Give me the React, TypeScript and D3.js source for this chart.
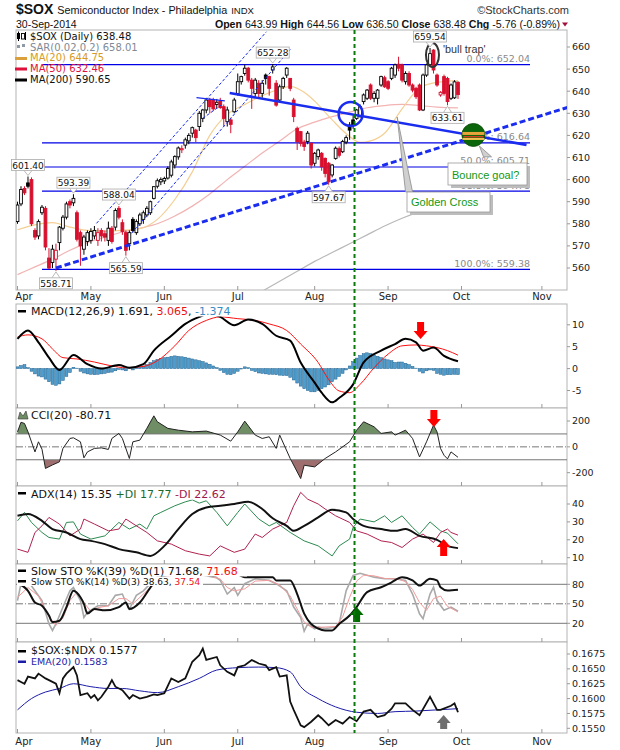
import React from 'react';
import * as d3 from 'd3';

type Pt = [number, number];

const SANS = "'DejaVu Sans', Verdana, sans-serif";
const ARIAL = "'Liberation Sans', Arial, Helvetica, sans-serif";

// daily bars, 1 Apr 2014 .. 30 Sep 2014 (index 0 = 1 Apr)
const OPEN = [
  581, 589, 596, 598.5, 600, 577, 574.5, 585, 587, 564.5,
  562.5, 564, 571.5, 578, 583, 590, 589.5, 585, 576, 568.5,
  572, 572.5, 574.5, 572.5, 577, 575.5, 572.5, 578, 578.5, 587,
  580.5, 576, 571, 582, 576, 580, 582, 584, 585, 591.5,
  597, 599, 599.4, 600.7, 602, 606.6, 610.3, 613.5, 615.6, 617.5,
  621, 622.4, 624, 627.7, 631.5, 636, 636, 634, 635.5, 633,
  626.2, 627, 630.7, 639, 644.3, 648, 650.4, 645, 639, 643.6,
  639, 647.3, 646.6, 649.6, 643.6, 636, 642, 647.3, 645.8, 636,
  623.2, 621.7, 617, 617.2, 616.4, 607.4, 610.4, 611.9, 609.6, 607.4,
  602.1, 609.6, 614, 612.6, 617, 624.7, 627, 627.7, 628.5, 635.3,
  636.8, 642.8, 636.8, 636.8, 642.8, 646.1, 644.3, 645.8, 647.3, 652.2,
  651.9, 644.3, 648, 642.8, 641.3, 642.8, 631.5, 647.3, 652, 658.6,
  647.3, 638.3, 646.6, 645.8, 636.8, 637, 643.99,
];
const HIGH = [
  590, 597, 597, 601.4, 601, 578, 582, 588.5, 588, 569,
  570.5, 571, 579, 584, 590, 591, 593.39, 586, 577, 575,
  577, 578, 579, 578, 578, 577, 581, 579, 587, 588.04,
  582, 577, 577, 583, 582, 585, 586, 588, 590.5, 597,
  600.5, 601, 601.3, 606, 609, 611, 615, 615.5, 619, 621,
  624, 623, 631, 632, 637, 637, 637, 636.5, 637, 634,
  633, 628, 637, 648, 647, 652, 651, 646, 646, 645,
  645, 648, 647, 652.28, 645, 643, 646.5, 650.9, 646, 637,
  624, 622, 618, 622, 617, 612.5, 614, 612.5, 610, 608,
  607, 615, 615, 618, 620, 626, 629, 632, 634, 639,
  641, 643.5, 640, 641, 647, 647, 645, 651, 652.5, 655.6,
  652.5, 649, 649, 643.5, 642, 643.5, 648, 652.5, 659.54, 659,
  648, 640, 647.5, 646.5, 643.5, 645, 644.56,
];
const LOW = [
  580, 588, 593, 596, 579, 572.7, 573, 584, 568, 559.5,
  560, 558.71, 568, 577, 582, 587, 588, 572, 561, 566,
  570, 571, 573, 570, 572, 572, 570, 571, 577, 582,
  575, 565.59, 568, 576, 575, 579, 580, 583, 584, 591,
  596, 597.5, 598, 600, 601, 605, 609, 612, 614, 616,
  619, 617, 622, 626, 630, 630, 631, 632, 632, 624,
  624, 621, 630, 638, 643, 647, 644, 632, 637, 637,
  637, 643, 638, 648, 633, 635, 641, 646, 640, 626,
  613.4, 615, 613, 616, 605, 606, 609, 604, 601, 597.67,
  601, 609, 610, 612, 616, 618, 623, 627, 628, 634,
  636, 636, 635, 634, 642, 641.5, 640.5, 645, 646, 649,
  644, 643, 642, 639.5, 636.5, 631, 631, 646.5, 651, 648,
  642, 637.5, 638, 633.61, 636, 636.5, 636.5,
];
const CLOSE = [
  588.5, 595.5, 594, 597, 580, 574, 581, 587.5, 569.5, 560,
  568.5, 568, 578.5, 583, 589, 588.5, 591.5, 573, 570, 574,
  576, 576.5, 577, 576, 574.5, 574, 578, 572, 586, 583,
  576.5, 568, 576, 577, 581, 584, 585, 587, 590, 596.8,
  599.5, 600, 600.5, 605, 608, 610.4, 614.3, 614, 618, 620,
  623.5, 619, 630, 631.5, 636, 633, 632, 635, 632.6, 627.7,
  631.5, 625, 636, 644.3, 646.6, 650.4, 645, 641.3, 645, 639,
  643.6, 645.8, 641.3, 651, 633.7, 642, 645.8, 650.4, 641.3, 628.5,
  617.2, 616.4, 615, 621, 606.6, 611.9, 613.4, 605.8, 602.8, 599,
  606.6, 614.2, 611, 617.2, 619, 622.4, 624.7, 631.5, 633, 638.3,
  640.5, 636.8, 639, 640.5, 646.6, 642, 641.3, 650.4, 651.9, 650.4,
  645, 648, 642.8, 640.5, 637.5, 631.5, 647.3, 651.9, 657, 649.6,
  642.8, 639.5, 639, 635.3, 642.8, 644.24, 638.48,
];

const MONTHS = ['Apr', 'May', 'Jun', 'Jul', 'Aug', 'Sep', 'Oct', 'Nov'];
const MONTH_START = [0, 21, 42, 63, 85, 106, 127, 150];

// moving averages as [bar, value]
const MA20: Pt[] = [[0, 577.3], [5, 579.5], [10, 580.5], [15, 578.5], [20, 577], [25, 576.7], [30, 577], [35, 577.8], [40, 582], [45, 591], [50, 603.5], [55, 620], [60, 629.5], [65, 634], [70, 638], [75, 641], [78, 642.2], [82, 639.5], [85, 635.5], [90, 627], [95, 619.5], [98, 616.8], [101, 617.5], [105, 621], [110, 632], [115, 641.5], [120, 644], [126, 644.75]];
const MA50: Pt[] = [[0, 557], [5, 560.5], [10, 564], [15, 568], [20, 571.5], [25, 574], [30, 576.3], [35, 578], [40, 580], [45, 583.5], [50, 588], [55, 593.5], [60, 600], [65, 606], [70, 612], [75, 617.5], [80, 623], [85, 626], [90, 628.5], [95, 630.5], [100, 632.5], [105, 633.5], [110, 634], [115, 633.5], [120, 632.8], [126, 632.46]];
const MA200: Pt[] = [[60, 541], [65, 545], [70, 549.5], [75, 554], [80, 558.5], [85, 563], [90, 567], [95, 571], [100, 575], [105, 579], [110, 582.5], [115, 585.5], [120, 588], [126, 590.65]];

const FIB_LEVELS = [652.04, 616.64, 605.71, 594.78, 559.38];
const FIB_NAMES = ['0.0%', '38.2%', '50.0%', '61.8%', '100.0%'];

const PRICE_TAGS = [
  { i: 3, v: 601.4, above: true },
  { i: 11, v: 558.71, above: false },
  { i: 16, v: 593.39, above: true },
  { i: 29, v: 588.04, above: true },
  { i: 31, v: 565.59, above: false },
  { i: 73, v: 652.28, above: true },
  { i: 89, v: 597.67, above: false },
  { i: 118, v: 659.54, above: true },
  { i: 123, v: 633.61, above: false },
];

// trendlines as [bar, price] anchors
const SUPPORT: Pt[] = [[11, 560], [160, 634]];
const CHANNEL_UP: Pt[] = [[22.6, 580.2], [71.2, 666.9]];
const CHANNEL_LOW: Pt[] = [[32.6, 575.7], [78.3, 659.4]];
const RESIST: Pt[] = [[60.7, 639.2], [145.6, 615.7]];
const FLAG_TOP: Pt[] = [[51.2, 637.1], [59.3, 635.6]];
const FLAG_LOW: Pt[] = [[53, 627.7], [58.3, 633.8]];

// MACD(12,26,9)
const MACD_LINE: Pt[] = [[0, 6.8], [3, 8.7], [6, 6], [9, 2.5], [12, -0.3], [16, 3.1], [20, 1], [24, 0], [29, 0.8], [32, 0.2], [36, 1], [39, 4.1], [44, 7.5], [48, 10.2], [52, 11.8], [55, 12.6], [58, 11.8], [62, 9.9], [66, 11.2], [70, 10.2], [74, 7.5], [78, 6.4], [81, 1.4], [85, -3.2], [87, -5.5], [90, -7.7], [92, -6.7], [96, -3.6], [99, 1.4], [104, 4.1], [108, 5.6], [111, 6.8], [114, 6], [116, 4.1], [119, 4.8], [122, 2.9], [126, 1.691]];
const MACD_SIGNAL: Pt[] = [[0, 7.2], [3, 7.7], [7, 6.8], [10, 4.5], [13, 2.5], [17, 2.2], [22, 1.5], [27, 0.6], [31, 0.2], [36, 0.5], [40, 1.8], [45, 5.2], [49, 8.7], [54, 11], [58, 11.8], [63, 11.4], [68, 11], [72, 10.2], [77, 8.7], [81, 5.6], [86, 1.4], [89, -2.5], [92, -5.1], [95, -5.5], [98, -3.6], [102, 0.2], [106, 3.3], [110, 5.2], [114, 5.4], [117, 5.2], [120, 4.8], [123, 4.1], [126, 3.065]];
const MACD_HIST = [
  0.4, 0.7, 0.9, 0.2, -0.6, -1.2, -1.7, -1.9, -2.4, -3.0,
  -3.6, -3.8, -3.5, -2.7, -1.8, -0.9, 0.3, 0.1, -0.6, -1.0,
  -1.2, -1.3, -1.4, -1.3, -1.2, -1.1, -0.9, -0.8, -0.5, -0.2,
  -0.3, -0.5, 0.1, -0.3, 0.2, 0.4, 0.6, 0.9, 1.4, 1.8,
  2.1, 2.3, 2.5, 2.6, 2.8, 2.9, 2.8, 2.7, 2.6, 2.4,
  2.2, 2.0, 1.8, 1.6, 1.3, 1.0, 0.6, 0.2, -0.4, -0.9,
  -1.3, -1.4, -1.1, -0.6, -0.1, 0.4, 0.2, -0.4, -0.7, -1.0,
  -1.1, -1.2, -1.3, -1.3, -1.4, -1.5, -1.6, -1.6, -2.0, -2.6,
  -3.3, -4.0, -4.6, -5.0, -5.3, -5.3, -5.0, -4.6, -4.2, -3.7,
  -3.0, -2.4, -1.8, -1.1, -0.3, 0.6, 1.6, 2.4, 3.0, 3.4,
  3.6, 3.4, 3.1, 2.8, 2.5, 2.2, 2.0, 1.8, 1.4, 1.5,
  1.5, 1.2, 0.9, 0.5, 0.1, -0.6, -1.0, -0.5, -0.3, -0.4,
  -1.1, -1.3, -1.5, -1.4, -1.4, -1.3, -1.374,
];

// CCI(20)
const CCI: Pt[] = [[0, 116], [1, 190], [2, 181], [3, 116], [5, -39], [6, 39], [7, -18], [8, -167], [10, -140], [12, -116], [13, -12], [15, 65], [16, 70], [18, 39], [19, -85], [20, -39], [22, -12], [24, -8], [26, -20], [27, 65], [29, 104], [30, 65], [32, -90], [33, 39], [35, 52], [37, 143], [39, 240], [40, 194], [43, 143], [46, 129], [50, 116], [54, 122], [58, 91], [61, 44], [63, 116], [65, 199], [68, 91], [70, 65], [72, 78], [74, -12], [75, 91], [78, -90], [81, -245], [82, -142], [85, -155], [88, -90], [91, -39], [95, 39], [97, 129], [99, 194], [102, 155], [104, 104], [107, 116], [108, 91], [111, 129], [113, 65], [115, -78], [117, 39], [119, 168], [120, 116], [121, -12], [122, -65], [123, -93], [124, -39], [126, -80.71]];

// ADX(14)
const ADX: Pt[] = [[0, 33.4], [3, 34.4], [7, 30.6], [10, 26], [14, 24.1], [18, 20.4], [21, 19.4], [25, 17.6], [29, 14.8], [34, 13], [38, 11], [42, 16.6], [46, 26], [50, 34.4], [54, 38.1], [58, 39], [62, 40], [66, 41.2], [70, 37.2], [73, 32], [77, 27.8], [79, 25], [82, 27.8], [86, 32.5], [90, 36.8], [94, 35.3], [96, 31.6], [99, 27.8], [104, 26], [108, 25], [111, 26], [115, 22.2], [120, 20], [123, 16.6], [126, 15.35]];
const PLUS_DI: Pt[] = [[0, 30.6], [2, 35.3], [4, 29.7], [7, 24.1], [9, 21.3], [12, 20.4], [14, 29.7], [16, 30], [18, 23.2], [21, 20.4], [25, 22.2], [29, 29.7], [32, 26], [35, 28.8], [37, 26], [39, 33.4], [41, 35.3], [45, 39], [48, 41.2], [50, 42.3], [52, 40.5], [54, 41.8], [57, 35.3], [60, 27.8], [63, 35.3], [65, 40], [69, 31.6], [72, 27.8], [74, 29.7], [78, 24.1], [82, 19.4], [86, 16.6], [90, 11], [92, 16.6], [95, 20.4], [96, 26.9], [98, 31.6], [102, 30], [105, 33.4], [107, 29.7], [110, 33.4], [113, 26.9], [115, 23.2], [118, 30], [121, 25], [123, 23.7], [126, 17.77]];
const MINUS_DI: Pt[] = [[0, 14.8], [3, 13], [5, 24.1], [7, 27.8], [9, 32.5], [12, 28.8], [15, 22.2], [18, 26], [19, 31.6], [22, 28.8], [26, 25], [29, 26], [31, 31.6], [34, 27.8], [37, 24.1], [40, 19.4], [44, 17.6], [48, 13.9], [52, 12], [55, 11], [58, 16.6], [62, 13], [65, 14.8], [68, 23.2], [70, 21.3], [73, 26], [77, 29.7], [79, 39], [81, 46.5], [83, 42.7], [86, 40], [88, 37.2], [91, 33.4], [95, 29.7], [97, 25], [100, 23.2], [104, 19.4], [107, 18.5], [110, 15.7], [113, 20.4], [116, 23.2], [119, 18.5], [121, 24.1], [123, 26], [124, 24.1], [126, 22.62]];

// slow stochastics
const STO_K39: Pt[] = [[0, 82], [3, 70], [5, 52], [7, 47], [9, 32], [10, 22], [12, 24], [14, 45], [16, 70], [18, 60], [19, 50], [20, 35], [22, 42], [25, 40], [29, 45], [31, 52], [32, 42], [35, 52], [38, 75], [40, 88], [44, 95], [48, 97], [52, 96], [56, 93], [59, 96], [61, 96], [63, 95], [65, 91], [70, 91], [73, 91], [74, 86], [78, 86], [80, 65], [82, 35], [84, 19], [86, 12], [88, 9], [90, 9], [92, 19], [95, 32], [97, 45], [100, 68], [104, 75.5], [107, 83], [110, 91], [113, 86], [115, 78], [118, 88.5], [120, 86], [121, 75.5], [123, 70.5], [126, 71.68]];
const STO_K14: Pt[] = [[0, 55], [1, 81], [3, 85], [5, 70], [7, 55], [9, 19], [10, 9], [11, 19], [13, 45], [15, 70], [16, 75], [18, 55], [19, 29], [20, 37], [23, 47], [26, 47], [28, 63], [30, 65], [31, 52], [32, 42], [34, 63], [36, 70], [38, 81], [40, 92], [43, 96], [46, 94], [49, 97], [52, 95], [55, 92], [57, 90], [58, 86], [60, 65], [62, 75], [63, 63], [65, 81], [68, 88.5], [72, 86], [74, 81], [77, 70], [79, 45], [81, 29], [82, 8], [83, 19], [85, 11.5], [86, 14], [88, 12], [91, 14], [92, 19], [94, 70], [96, 93.5], [98, 97], [102, 91], [105, 88.5], [108, 88.5], [111, 86], [113, 65], [115, 34.6], [116, 27], [118, 65], [119, 75.5], [120, 55], [122, 40], [124, 45], [126, 38.63]];
const STO_D3: Pt[] = [[0, 60], [3, 75], [6, 62], [9, 30], [11, 17], [13, 28], [15, 55], [17, 68], [19, 52], [21, 38], [23, 44], [26, 47], [29, 58], [31, 58], [33, 50], [35, 60], [38, 75], [41, 88], [45, 95], [50, 95], [55, 93], [58, 88], [60, 75], [62, 70], [65, 73], [68, 85], [72, 86], [75, 79], [78, 62], [80, 42], [82, 22], [84, 14], [87, 14], [91, 15], [93, 30], [95, 60], [97, 85], [99, 94], [102, 93], [105, 89], [109, 88], [111, 84], [113, 72], [115, 52], [117, 40], [119, 58], [121, 62], [123, 46], [126, 37.54]];

// $SOX:$NDX ratio
const RATIO: Pt[] = [[0, 0.1631], [1, 0.1628], [2, 0.1625], [3, 0.1637], [5, 0.1634], [6, 0.1642], [8, 0.1634], [9, 0.1631], [11, 0.1625], [12, 0.1609], [13, 0.1634], [14, 0.1642], [16, 0.1653], [17, 0.1639], [18, 0.1606], [20, 0.1609], [21, 0.1601], [22, 0.1606], [23, 0.1597], [24, 0.1603], [26, 0.162], [27, 0.1631], [28, 0.162], [30, 0.1614], [32, 0.16], [33, 0.1606], [35, 0.16], [37, 0.1603], [39, 0.1607], [40, 0.1606], [42, 0.1609], [44, 0.1634], [46, 0.1628], [48, 0.1634], [50, 0.1662], [52, 0.1673], [53, 0.1684], [54, 0.1665], [57, 0.167], [58, 0.1656], [60, 0.1645], [62, 0.1639], [63, 0.1653], [65, 0.1656], [67, 0.1665], [69, 0.1659], [71, 0.1656], [72, 0.1648], [74, 0.1653], [75, 0.1637], [77, 0.1639], [78, 0.1595], [79, 0.1581], [81, 0.1555], [82, 0.1552], [84, 0.1561], [86, 0.1572], [87, 0.1567], [89, 0.1555], [91, 0.1564], [93, 0.1558], [95, 0.1569], [97, 0.1562], [99, 0.1578], [101, 0.1581], [103, 0.1569], [105, 0.1572], [107, 0.1583], [108, 0.1592], [111, 0.1592], [113, 0.1581], [115, 0.1572], [118, 0.1603], [120, 0.1581], [121, 0.1581], [124, 0.1588], [125, 0.1592], [126, 0.1577]];
const RATIO_EMA: Pt[] = [[0, 0.1581], [4, 0.16], [8, 0.1611], [12, 0.1617], [16, 0.1625], [21, 0.162], [26, 0.1617], [30, 0.1617], [35, 0.1613], [40, 0.161], [46, 0.162], [52, 0.1634], [57, 0.1648], [63, 0.1652], [69, 0.1653], [74, 0.1652], [78, 0.1645], [81, 0.162], [86, 0.16], [91, 0.1586], [97, 0.1577], [103, 0.1575], [108, 0.1578], [114, 0.1579], [120, 0.1581], [126, 0.1583]];

const LEFT = 16;
const RIGHT = 567;
const PANELS: Record<string, [number, number]> = {
  main: [30, 290], macd: [304, 408], cci: [408, 486], adx: [486, 564], sto: [564, 642], ratio: [642, 733],
};

const xs = d3.scaleLinear().domain([0, 126]).range([17.5, 458]);
const yP = d3.scaleLinear().domain([560, 660]).range([268, 47]);
const yM = d3.scaleLinear().domain([-5, 10]).range([390.5, 324.8]);
const yC = d3.scaleLinear().domain([-200, 200]).range([472.7, 421]);
const yA = d3.scaleLinear().domain([10, 40]).range([557.7, 504]);
const yS = d3.scaleLinear().domain([20, 80]).range([623.3, 584.3]);
const yR = d3.scaleLinear().domain([0.155, 0.1675]).range([728.3, 654]);

const lineOf = (ys: d3.ScaleLinear<number, number>, curve: d3.CurveFactory = d3.curveLinear) =>
  d3.line<Pt>().x((d) => xs(d[0])).y((d) => ys(d[1])).curve(curve);

const RightAxis = ({ scale, ticks, fmt }: { scale: d3.ScaleLinear<number, number>; ticks: number[]; fmt: (v: number) => string }) => (
  <g fontFamily={SANS} fontSize={9.5} fill="#222">
    {ticks.map((t) => (
      <g key={t}>
        <line x1={RIGHT} x2={RIGHT + 3} y1={scale(t)} y2={scale(t)} stroke="#999" />
        <text x={RIGHT + 5} y={scale(t)} dy="0.36em">{fmt(t)}</text>
      </g>
    ))}
  </g>
);

const Arrow = ({ i, tip, base, color }: { i: number; tip: number; base: number; color: string }) => {
  const cx = xs(i);
  const dir = tip < base ? 1 : -1;
  const neck = tip + dir * 8;
  const pts = [[cx, tip], [cx + 7, neck], [cx + 3.5, neck], [cx + 3.5, base], [cx - 3.5, base], [cx - 3.5, neck], [cx - 7, neck]];
  return <polygon points={pts.map((p) => p.join(',')).join(' ')} fill={color} />;
};

const PriceTag = ({ i, v, above }: { i: number; v: number; above: boolean }) => {
  const cx = xs(i);
  const py = yP(v);
  const w = 33, h = 11;
  const top = above ? py - 6 - h : py + 7;
  const edge = above ? top + h : top;
  const tip = above ? py - 1 : py + 1;
  return (
    <g>
      <polyline points={`${cx - 4},${edge} ${cx},${tip} ${cx + 4},${edge}`} fill="#fff" stroke="#aaa" strokeWidth={0.8} />
      <rect x={cx - w / 2} y={top} width={w} height={h} fill="#fff" stroke="#aaa" strokeWidth={0.8} />
      <text x={cx} y={top + h - 2} textAnchor="middle" fontFamily={SANS} fontSize={9} fill="#111">{v.toFixed(2)}</text>
    </g>
  );
};

const Note = ({ x, y, w, h, text }: { x: number; y: number; w: number; h: number; text: string }) => (
  <g>
    <rect x={x + 3} y={y + 3} width={w} height={h} fill="#bdbdbd" />
    <rect x={x} y={y} width={w} height={h} fill="#fff" stroke="#999" strokeWidth={0.8} />
    <text x={x + 4} y={y + h - 6} fontFamily={ARIAL} fontSize={11} fill="#119911">{text}</text>
  </g>
);

export default function App() {
  const [, mBot] = PANELS.main;
  const bars = CLOSE.map((c, i) => {
    const o = OPEN[i];
    const up = i === 0 ? c >= o : c >= CLOSE[i - 1];
    const col = up ? '#000' : '#d8102e';
    const hollow = c > o;
    return { i, o, c, h: HIGH[i], l: LOW[i], col, hollow };
  });

  const tl = (p: Pt[]) => ({ x1: xs(p[0][0]), y1: yP(p[0][1]), x2: xs(p[1][0]), y2: yP(p[1][1]) });

  const monthTicks = (bottom: number) =>
    MONTH_START.map((m, k) => {
      const px = xs(m);
      if (px <= LEFT || px >= RIGHT) return null;
      return <line key={k} x1={px} x2={px} y1={bottom - 4} y2={bottom} stroke="#999" />;
    });

  const monthLabels = (y: number) =>
    MONTHS.map((m, k) => (
      <text key={m} x={Math.max(xs(MONTH_START[k]), 24)} y={y} textAnchor="middle" fontFamily={SANS} fontSize={10} fill="#222">{m}</text>
    ));

  const cciPos = d3.area<Pt>().x((d) => xs(d[0])).y0(yC(100)).y1((d) => yC(d[1]));
  const cciNeg = d3.area<Pt>().x((d) => xs(d[0])).y0(yC(-100)).y1((d) => yC(d[1]));

  const greenX = xs(96.4);
  const ball = { x: xs(130.4), y: yP(620.2) };

  return (
    <div style={{ position: 'absolute', left: 0, top: 0 }}>
      <svg width={620} height={750} style={{ display: 'block', background: '#fff' }}>
        <defs>
          {Object.entries(PANELS).map(([k, [t, b]]) => (
            <clipPath id={`clip-${k}`} key={k}>
              <rect x={LEFT} y={t} width={RIGHT - LEFT} height={b - t} />
            </clipPath>
          ))}
          <clipPath id="clip-cci-pos"><rect x={LEFT} y={408} width={RIGHT - LEFT} height={yC(100) - 408} /></clipPath>
          <clipPath id="clip-cci-neg"><rect x={LEFT} y={yC(-100)} width={RIGHT - LEFT} height={486 - yC(-100)} /></clipPath>
        </defs>

        {/* header */}
        <text x={16} y={14} fontFamily={ARIAL} fill="#111">
          <tspan fontSize={14} fontWeight="bold">$SOX</tspan>
          <tspan fontSize={10.8} dx={4}>Semiconductor Index - Philadelphia</tspan>
          <tspan fontSize={9.5} dx={4}>INDX</tspan>
        </text>
        <text x={569} y={14} textAnchor="end" fontFamily={ARIAL} fontSize={11} fill="#333">©StockCharts.com</text>
        <text x={16} y={27.5} fontFamily={ARIAL} fontSize={10.5} fill="#111">30-Sep-2014</text>
        <text x={560} y={27.5} textAnchor="end" fontFamily={ARIAL} fontSize={10.6} fill="#111">
          <tspan fontWeight="bold">Open</tspan><tspan> 643.99 </tspan>
          <tspan fontWeight="bold">High</tspan><tspan> 644.56 </tspan>
          <tspan fontWeight="bold">Low</tspan><tspan> 636.50 </tspan>
          <tspan fontWeight="bold">Close</tspan><tspan> 638.48 </tspan>
          <tspan fontWeight="bold">Chg</tspan><tspan> -5.76 (-0.89%)</tspan>
        </text>
        <polygon points="562,22.5 568,22.5 565,26.5" fill="#a0103a" />

        {/* panel frames */}
        {Object.entries(PANELS).map(([k, [t, b]]) => (
          <rect key={k} x={LEFT} y={t} width={RIGHT - LEFT} height={b - t} fill="#fff" stroke="#b4b4b4" strokeWidth={1} />
        ))}

        {/* ---------- price panel ---------- */}
        <g clipPath="url(#clip-main)">
          <path d={lineOf(yP, d3.curveMonotoneX)(MA200) || ''} fill="none" stroke="#b9b9b9" strokeWidth={1.2} />
          <path d={lineOf(yP, d3.curveMonotoneX)(MA50) || ''} fill="none" stroke="#f2b3b3" strokeWidth={1.2} />
          <path d={lineOf(yP, d3.curveMonotoneX)(MA20) || ''} fill="none" stroke="#f3cf94" strokeWidth={1.2} />

          {FIB_LEVELS.map((lv, k) => (
            <g key={lv}>
              <line x1={42} x2={530} y1={yP(lv)} y2={yP(lv)} stroke="#0000e6" strokeWidth={1.2} />
              <text x={530} y={yP(lv) - 2.5} textAnchor="end" fontFamily={SANS} fontSize={9.5} fill="#8a8a8a">{`${FIB_NAMES[k]}: ${lv.toFixed(2)}`}</text>
            </g>
          ))}

          {bars.map((b) => {
            const cx = xs(b.i);
            const top = yP(Math.max(b.o, b.c));
            const bot = yP(Math.min(b.o, b.c));
            return (
              <g key={b.i}>
                <line x1={cx} x2={cx} y1={yP(b.h)} y2={yP(b.l)} stroke={b.col} strokeWidth={1} />
                <rect x={cx - 1.4} y={top} width={2.8} height={Math.max(bot - top, 0.8)} fill={b.hollow ? '#fff' : b.col} stroke={b.col} strokeWidth={0.9} />
              </g>
            );
          })}

          <line {...tl(CHANNEL_UP)} stroke="#1a2cf0" strokeWidth={1} strokeDasharray="3,2" />
          <line {...tl(CHANNEL_LOW)} stroke="#1a2cf0" strokeWidth={1} strokeDasharray="3,2" />
          <line {...tl(FLAG_TOP)} stroke="#1a2cf0" strokeWidth={1.2} />
          <line {...tl(FLAG_LOW)} stroke="#1a2cf0" strokeWidth={1} strokeDasharray="3,2" />
          <line {...tl(SUPPORT)} stroke="#1a2cf0" strokeWidth={3} strokeDasharray="6,3" />
          <line {...tl(RESIST)} stroke="#1a2cf0" strokeWidth={2.6} />

          <circle cx={xs(95.3)} cy={yP(629.7)} r={12} fill="none" stroke="#1a2cf0" strokeWidth={2.5} />
          <ellipse cx={xs(118.7)} cy={yP(656.4)} rx={6.5} ry={12} fill="none" stroke="#333" strokeWidth={2} />

          {/* pointers and notes */}
          <polygon points={`${xs(108.6)},${yP(628.3)} ${xs(111)},${yP(594.4)} ${xs(113)},${yP(594.4)}`} fill="#d0d0d0" stroke="#8a8a8a" strokeWidth={0.8} />
          <Note x={407} y={192} w={83} h={20} text="Golden Cross" />
          <polygon points={`${ball.x + 6},${ball.y + 11} ${xs(133.3)},${yP(610.3)} ${xs(135.6)},${yP(610.3)}`} fill="#d0d0d0" stroke="#8a8a8a" strokeWidth={0.8} />
          <Note x={448} y={163} w={79} h={22} text="Bounce goal?" />

          <circle cx={ball.x} cy={ball.y} r={11.5} fill="#0b650b" stroke="#0a4a0a" strokeWidth={0.8} />
          <rect x={ball.x - 11} y={ball.y - 3} width={22} height={3} fill="#e8a33a" />
          <rect x={ball.x - 10} y={ball.y + 1} width={20} height={1.5} fill="#d04020" />
          <rect x={ball.x - 11} y={ball.y + 3} width={22} height={2} fill="#f0c050" />

          <text x={443} y={53} fontFamily={ARIAL} fontSize={10.8} fill="#333">'bull trap'</text>
        </g>
        {PRICE_TAGS.map((t) => <PriceTag key={t.i} {...t} />)}

        {/* price legend */}
        <g fontFamily={SANS} fontSize={10}>
          <rect x={17} y={33} width={3} height={6} fill="#000" />
          <line x1={18.5} x2={18.5} y1={31.5} y2={41} stroke="#000" />
          <rect x={21.5} y={33.5} width={3} height={5.5} fill="#fff" stroke="#000" strokeWidth={0.9} />
          <line x1={25.5} x2={25.5} y1={32} y2={40} stroke="#000" />
          <text x={30} y={40} fill="#111">$SOX (Daily) 638.48</text>
          <rect x={17} y={45} width={3} height={3} fill="#8f99a3" />
          <rect x={22} y={44} width={3} height={3} fill="#8f99a3" />
          <text x={30} y={50.5} fill="#7f8a96">SAR(0.02,0.2) 658.01</text>
          <rect x={15} y={57} width={12} height={3} fill="#dba03a" />
          <text x={30} y={61} fill="#d69b25">MA(20) 644.75</text>
          <rect x={15} y={67.5} width={12} height={3} fill="#e0103a" />
          <text x={30} y={71.5} fill="#e0103a">MA(50) 632.46</text>
          <rect x={15} y={78.5} width={12} height={3} fill="#000" />
          <text x={30} y={82.5} fill="#111">MA(200) 590.65</text>
        </g>
        <RightAxis scale={yP} ticks={d3.range(560, 661, 10)} fmt={(v) => `${v}`} />
        {monthTicks(mBot)}
        {monthLabels(300)}

        {/* ---------- MACD ---------- */}
        <g clipPath="url(#clip-macd)">
          {MACD_HIST.map((v, i) => (
            <rect key={i} x={xs(i) - 1.4} y={Math.min(yM(v), yM(0))} width={2.8} height={Math.abs(yM(v) - yM(0))} fill="#4f9dcc" stroke="#23628f" strokeWidth={0.5} />
          ))}
          <path d={lineOf(yM, d3.curveMonotoneX)(MACD_SIGNAL) || ''} fill="none" stroke="#ff1010" strokeWidth={1} />
          <path d={lineOf(yM, d3.curveMonotoneX)(MACD_LINE) || ''} fill="none" stroke="#000" strokeWidth={2} />
          <rect x={17} y={305} width={224} height={11.5} fill="#fff" />
          <Arrow i={115.3} tip={339} base={322} color="#ff0000" />
        </g>
        <g fontFamily={SANS} fontSize={11}>
          <rect x={18} y={310} width={8} height={2.5} fill="#000" />
          <text x={31} y={315}>
            <tspan fill="#111">MACD(12,26,9) 1.691</tspan>
            <tspan fill="#111">, </tspan><tspan fill="#ee1111">3.065</tspan>
            <tspan fill="#111">, </tspan><tspan fill="#3a8cc4">-1.374</tspan>
          </text>
        </g>
        <RightAxis scale={yM} ticks={[-5, 0, 5, 10]} fmt={(v) => `${v}`} />
        {monthTicks(408)}

        {/* ---------- CCI ---------- */}
        <g clipPath="url(#clip-cci)">
          <path d={cciPos(CCI) || ''} fill="#6f8e66" clipPath="url(#clip-cci-pos)" />
          <path d={cciNeg(CCI) || ''} fill="#9e6e6e" clipPath="url(#clip-cci-neg)" />
          <line x1={LEFT} x2={RIGHT} y1={yC(100)} y2={yC(100)} stroke="#777" />
          <line x1={LEFT} x2={RIGHT} y1={yC(-100)} y2={yC(-100)} stroke="#777" />
          <line x1={LEFT} x2={RIGHT} y1={yC(0)} y2={yC(0)} stroke="#777" strokeDasharray="7,2,1,2" />
          <path d={lineOf(yC)(CCI) || ''} fill="none" stroke="#222" strokeWidth={1} />
          <rect x={29} y={409} width={88} height={11.5} fill="#fff" />
          <Arrow i={119.1} tip={427} base={410} color="#ff0000" />
        </g>
        <g fontFamily={SANS} fontSize={11}>
          <polygon points="18,419 20,412 23,416 26,411 28,419" fill="#6f8e66" stroke="#333" strokeWidth={0.6} />
          <text x={31} y={419} fill="#111">CCI(20) -80.71</text>
        </g>
        <RightAxis scale={yC} ticks={[-200, 0, 200]} fmt={(v) => `${v}`} />
        {monthTicks(486)}

        {/* ---------- ADX ---------- */}
        <g clipPath="url(#clip-adx)">
          <path d={lineOf(yA)(PLUS_DI) || ''} fill="none" stroke="#2c8a50" strokeWidth={1} />
          <path d={lineOf(yA)(MINUS_DI) || ''} fill="none" stroke="#b0224f" strokeWidth={1} />
          <path d={lineOf(yA, d3.curveMonotoneX)(ADX) || ''} fill="none" stroke="#111" strokeWidth={2} />
          <rect x={17} y={488} width={218} height={11.5} fill="#fff" />
          <Arrow i={121.9} tip={539} base={556} color="#ff0000" />
        </g>
        <g fontFamily={SANS} fontSize={11}>
          <rect x={18} y={492} width={8} height={2.5} fill="#000" />
          <text x={31} y={497.5}>
            <tspan fill="#111">ADX(14) 15.35 </tspan>
            <tspan fill="#1a6b2a">+DI 17.77 </tspan>
            <tspan fill="#a0174a">-DI 22.62</tspan>
          </text>
        </g>
        <RightAxis scale={yA} ticks={[10, 20, 30, 40]} fmt={(v) => `${v}`} />
        {monthTicks(564)}

        {/* ---------- Slow STO ---------- */}
        <g clipPath="url(#clip-sto)">
          <line x1={LEFT} x2={RIGHT} y1={yS(80)} y2={yS(80)} stroke="#777" />
          <line x1={LEFT} x2={RIGHT} y1={yS(20)} y2={yS(20)} stroke="#777" />
          <line x1={LEFT} x2={RIGHT} y1={yS(50)} y2={yS(50)} stroke="#777" strokeDasharray="7,2,1,2" />
          <path d={lineOf(yS)(STO_K14) || ''} fill="none" stroke="#a9a9a9" strokeWidth={1.6} />
          <path d={lineOf(yS)(STO_D3) || ''} fill="none" stroke="#f29a9a" strokeWidth={1} />
          <path d={lineOf(yS, d3.curveMonotoneX)(STO_K39) || ''} fill="none" stroke="#111" strokeWidth={2} />
          <rect x={17} y={565} width={230} height={11.5} fill="#fff" />
          <rect x={17} y={576.5} width={186} height={9.5} fill="#fff" />
          <Arrow i={97} tip={607} base={622} color="#006a00" />
        </g>
        <g fontFamily={SANS}>
          <rect x={18} y={569.5} width={8} height={2.5} fill="#000" />
          <text x={31} y={575} fontSize={11}>
            <tspan fill="#111">Slow STO %K(39) %D(1) 71.68</tspan>
            <tspan fill="#111">, </tspan><tspan fill="#ee1111">71.68</tspan>
          </text>
          <rect x={18} y={580} width={8} height={2.5} fill="#000" />
          <text x={31} y={584.5} fontSize={9}>
            <tspan fill="#111">Slow STO %K(14) %D(3) 38.63</tspan>
            <tspan fill="#111">, </tspan><tspan fill="#ee1111">37.54</tspan>
          </text>
        </g>
        <RightAxis scale={yS} ticks={[20, 50, 80]} fmt={(v) => `${v}`} />
        {monthTicks(642)}

        {/* ---------- $SOX:$NDX ---------- */}
        <g clipPath="url(#clip-ratio)">
          <path d={lineOf(yR, d3.curveMonotoneX)(RATIO_EMA) || ''} fill="none" stroke="#1c1ca8" strokeWidth={1} />
          <path d={lineOf(yR)(RATIO) || ''} fill="none" stroke="#111" strokeWidth={1.8} />
          <Arrow i={121.9} tip={715} base={729} color="#6e6e6e" />
        </g>
        <g fontFamily={SANS}>
          <rect x={18} y={650} width={8} height={2.5} fill="#000" />
          <text x={31} y={654} fontSize={11} fill="#111">$SOX:$NDX 0.1577</text>
          <rect x={18} y={660.5} width={8} height={2.5} fill="#1c1ca8" />
          <text x={31} y={665} fontSize={9.5} fill="#1c1ca8">EMA(20) 0.1583</text>
        </g>
        <RightAxis scale={yR} ticks={[0.155, 0.1575, 0.16, 0.1625, 0.165, 0.1675]} fmt={(v) => v.toFixed(4)} />
        {monthTicks(733)}
        {monthLabels(745)}

        {/* green vertical marker through all panels */}
        <line x1={greenX} x2={greenX} y1={30} y2={733} stroke="#0a7a0a" strokeWidth={2} strokeDasharray="4,3" />
      </svg>
    </div>
  );
}
